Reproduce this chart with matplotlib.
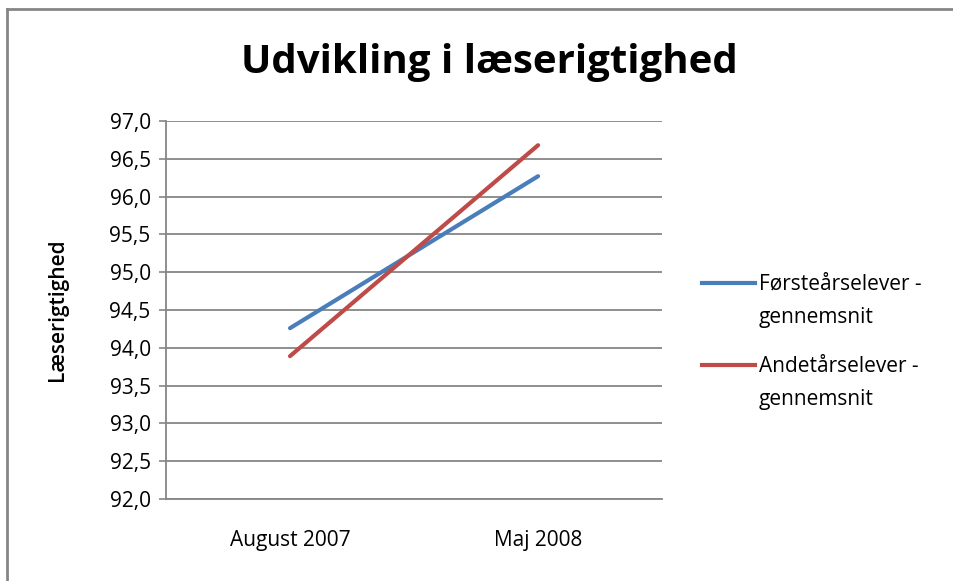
import matplotlib
matplotlib.use("Agg")
import matplotlib.pyplot as plt
from matplotlib.lines import Line2D

plt.rcParams["font.family"] = ["Open Sans", "DejaVu Sans"]

categories = ["August 2007", "Maj 2008"]
first_year = [94.26, 96.27]
second_year = [93.89, 96.68]
series_names = ["Førsteårselever -\ngennemsnit", "Andetårselever -\ngennemsnit"]
y_ticks = [92.0, 92.5, 93.0, 93.5, 94.0, 94.5, 95.0, 95.5, 96.0, 96.5, 97.0]

BLUE = "#4A7EBB"
RED = "#BE4B48"
GRID = "#868686"

fig = plt.figure(figsize=(9.54, 5.81), dpi=100)
ax = fig.add_axes([0.174, 0.1411, 0.52, 0.6506])

x = range(len(categories))
ax.plot(x, first_year, color=BLUE, linewidth=3, solid_capstyle="round")
ax.plot(x, second_year, color=RED, linewidth=3, solid_capstyle="round")

ax.set_xlim(-0.5, 1.5)
ax.set_ylim(92.0, 97.0)
ax.set_yticks(y_ticks)
ax.set_yticklabels([f"{v:.1f}".replace(".", ",") for v in y_ticks], fontsize=15)
ax.set_xticks(list(x))
ax.set_xticklabels(categories, fontsize=15)
ax.tick_params(axis="x", length=0, pad=22)
ax.tick_params(axis="y", length=5, width=1.2, color=GRID, pad=6, direction="out")
ax.yaxis.grid(True, color=GRID, linewidth=1.3)
ax.set_axisbelow(True)
for side in ["top", "right"]:
    ax.spines[side].set_visible(False)
for side in ["left", "bottom"]:
    ax.spines[side].set_color(GRID)
    ax.spines[side].set_linewidth(1.3)

ax.set_ylabel("Læserigtighed", fontsize=15, fontweight="semibold", labelpad=30)

fig.text(0.513, 0.893, "Udvikling i læserigtighed", fontsize=29, fontweight="bold",
         ha="center", va="center")

# legend drawn by hand: handle sits on the first text line, as in the original
W, H = 954, 581
for i, (name, color) in enumerate(zip(series_names, [BLUE, RED])):
    y_top = 283 + i * 82
    fig.add_artist(Line2D([702 / W, 755 / W], [1 - y_top / H, 1 - y_top / H],
                          transform=fig.transFigure, color=color, linewidth=3))
    fig.text(759 / W, 1 - (y_top - 9) / H, name, fontsize=15, ha="left", va="top",
             linespacing=1.75)

# outer chart border (left and top visible)
fig.add_artist(Line2D([0.0073, 0.0073], [0, 0.985], transform=fig.transFigure,
                      color=GRID, linewidth=2))
fig.add_artist(Line2D([0.0073, 1.0], [0.985, 0.985], transform=fig.transFigure,
                      color=GRID, linewidth=2))

fig.savefig("out.png", dpi=100, facecolor="white")
